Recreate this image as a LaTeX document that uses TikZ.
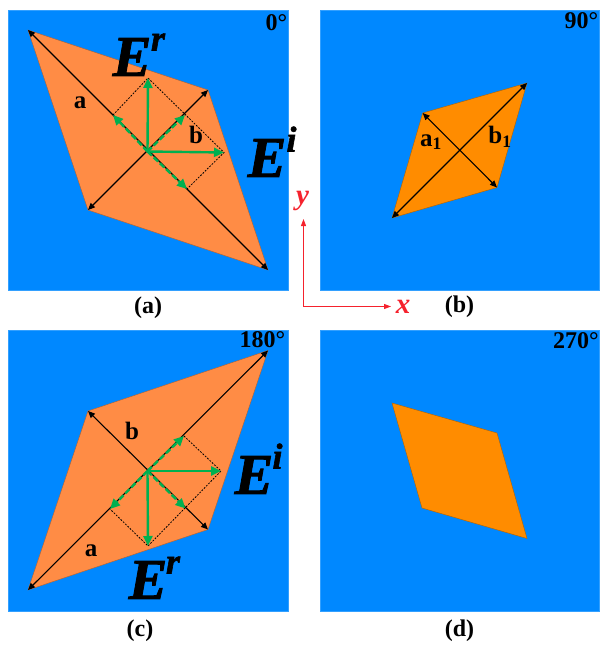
\documentclass[tikz,border=0pt]{standalone}
\usepackage{fontspec}
\setmainfont{Liberation Serif}
\usetikzlibrary{arrows.meta}
\definecolor{panelblue}{HTML}{0088FF}
\definecolor{lightor}{HTML}{FF8C45}
\definecolor{darkor}{HTML}{FF8C00}
\definecolor{vecgreen}{HTML}{00B050}
\definecolor{axisred}{HTML}{F5222D}
\tikzset{
  panel/.style={fill=panelblue,draw=panelblue!80!white,line width=0.5pt},
  rhombA/.style={fill=lightor,draw=lightor!70!black,line width=0.4pt},
  rhombB/.style={fill=darkor,draw=darkor!70!black,line width=0.4pt},
  diag/.style={black,line width=1.1pt,{Triangle[length=7pt,width=6pt]}-{Triangle[length=7pt,width=6pt]}},
  vec/.style={vecgreen,line width=2.4pt,-{Triangle[length=10pt,width=9pt]}},
  vecd/.style={vec,dash pattern=on 6pt off 2.5pt},
  dotline/.style={black,line width=0.8pt,dash pattern=on 1.8pt off 1.4pt},
  axisline/.style={axisred,line width=1pt,-{Triangle[length=7pt,width=5pt]}},
  captxt/.style={font=\fontsize{24}{24}\selectfont\bfseries,inner sep=0pt},
  angtxt/.style={font=\fontsize{24}{24}\selectfont\bfseries,inner sep=0pt,anchor=north east},
  labtxt/.style={font=\fontsize{25}{25}\selectfont\bfseries,inner sep=0pt},
  fieldtxt/.style={font=\fontsize{58}{58}\selectfont\bfseries\itshape\addfontfeatures{FakeBold=1.5},inner sep=0pt},
  suptxt/.style={font=\fontsize{36}{36}\selectfont\bfseries\itshape\addfontfeatures{FakeBold=1.5},inner sep=0pt},
  axtxt/.style={font=\fontsize{29}{29}\selectfont\bfseries\itshape,text=axisred,inner sep=0pt}
}
\begin{document}
\begin{tikzpicture}[x=1pt,y=-1pt]
\useasboundingbox (0,0) rectangle (601,645);
% panels
\draw[panel] (8.5,10.5) rectangle (288,290);
\draw[panel] (320,10.5) rectangle (599,290);
\draw[panel] (8.5,330.5) rectangle (288,611);
\draw[panel] (320,330.5) rectangle (599,611);
% panel a
\coordinate (a1) at (28,30); \coordinate (a2) at (208,90);
\coordinate (a3) at (268,270); \coordinate (a4) at (88,210);
\coordinate (ac) at (147.5,151.5); \coordinate (aU) at (148,78);
\coordinate (aR) at (224,152.5); \coordinate (aNW) at (113,115);
\coordinate (aNE) at (185,115); \coordinate (aSE) at (187,189);
\draw[rhombA] (a1)--(a2)--(a3)--(a4)--cycle;
\draw[diag] (a1)--(a3);
\draw[diag] (a2)--(a4);
\draw[dotline] (aNW)--(aU)--(aR)--(aSE);
\draw[vec] (ac)--(aU);
\draw[vec] (ac)--(aR);
\draw[vecd] (ac)--(aNW);
\draw[vecd] (ac)--(aNE);
\draw[vecd] (ac)--(aSE);
\node[labtxt] (la) at (80,103) {a};
\node[labtxt] (lb) at (196,135) {b};
\node[fieldtxt] (Er) at (132,57) {E};
\node[suptxt] (Ers) at (158,42) {r};
\node[fieldtxt] (Ei) at (267,158) {E};
\node[suptxt] (Eis) at (291.5,139) {i};
\node[angtxt] (t0) at (287.5,14) {0°};
\node[captxt] (ca) at (148,308) {(a)};
% panel b
\coordinate (b1) at (422.7,113); \coordinate (b2) at (527,83);
\coordinate (b3) at (497,187.5); \coordinate (b4) at (392,218);
\draw[rhombB] (b1)--(b2)--(b3)--(b4)--cycle;
\draw[diag] (b1)--(b3);
\draw[diag] (b2)--(b4);
\node[labtxt] (la1) at (431,142) {a\textsubscript{1}};
\node[labtxt] (lb1) at (500,137) {b\textsubscript{1}};
\node[angtxt] (t90) at (598.5,12) {90°};
\node[captxt] (cb) at (459.5,307) {(b)};
% axes
\coordinate (o) at (303.5,306.5); \coordinate (yt) at (303.5,219); \coordinate (xt) at (391,306.5);
\draw[axisline] (o)--(yt);
\draw[axisline] (o)--(xt);
\node[axtxt] (yl) at (302.5,201) {y};
\node[axtxt] (xl) at (403,307) {x};
% panel c
\coordinate (c1) at (28,590); \coordinate (c2) at (88,411);
\coordinate (c3) at (268,350.5); \coordinate (c4) at (208,529.5);
\coordinate (cc) at (147.5,471); \coordinate (cD) at (148,546);
\coordinate (cR) at (221,471); \coordinate (cNE) at (184,436);
\coordinate (cSW) at (110,509); \coordinate (cSE) at (185.5,508.5);
\draw[rhombA] (c1)--(c2)--(c3)--(c4)--cycle;
\draw[diag] (c1)--(c3);
\draw[diag] (c2)--(c4);
\draw[dotline] (cNE)--(cR)--(cD)--(cSW);
\draw[vec] (cc)--(cD);
\draw[vec] (cc)--(cR);
\draw[vecd] (cc)--(cNE);
\draw[vecd] (cc)--(cSW);
\draw[vecd] (cc)--(cSE);
\node[labtxt] (lb2) at (132,431) {b};
\node[labtxt] (la2) at (91,551) {a};
\node[fieldtxt] (Ei2) at (254,475) {E};
\node[suptxt] (Ei2s) at (277.5,456) {i};
\node[fieldtxt] (Er2) at (148,580) {E};
\node[suptxt] (Er2s) at (173,565) {r};
\node[angtxt] (t180) at (285.5,331) {180°};
\node[captxt] (cc2) at (140,631) {(c)};
% panel d
\coordinate (d1) at (392,403); \coordinate (d2) at (497,433);
\coordinate (d3) at (527,538.5); \coordinate (d4) at (422,508);
\draw[rhombB] (d1)--(d2)--(d3)--(d4)--cycle;
\node[angtxt] (t270) at (599,332) {270°};
\node[captxt] (cd) at (459.5,631) {(d)};
\end{tikzpicture}
\end{document}
